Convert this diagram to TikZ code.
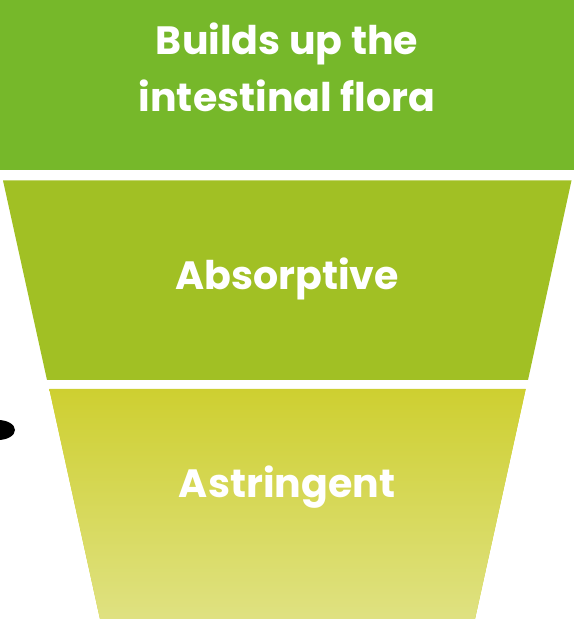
\documentclass[tikz,border=0pt]{standalone}
\usepackage{fontspec}
\setmainfont{Poppins}
\usepackage{tikz}
\usetikzlibrary{positioning, calc}
\definecolor{floragreen}{RGB}{118,184,42}
\definecolor{absorbgreen}{RGB}{161,192,36}
\definecolor{astrintop}{RGB}{202,203,30}
\definecolor{astrinbot}{RGB}{230,233,162}

\begin{document}
\begin{tikzpicture}[x=1pt,y=1pt]

\tikzstyle{layertext}=[text=white, font=\fontsize{39.5}{57}\selectfont\bfseries, align=center, inner sep=0pt]
\tikzstyle{layer}=[draw=none]

\useasboundingbox (0,0) rectangle (574,619);

% funnel layers
\fill[layer, floragreen] (0,619) rectangle (574,448.5);
\fill[layer, absorbgreen] (3,438.5) -- (571.5,438.5) -- (528,239) -- (47,239) -- cycle;
\begin{scope}
\clip (49.3,230) -- (525.7,230) -- (475,0) -- (100,0) -- cycle;
\fill[astrintop] (0,230) rectangle (574,0);
\shade[top color=astrintop, bottom color=astrinbot] (0,283.5) rectangle (574,-94.5);
\end{scope}

% black blob on the left edge
\fill[black] (-2,189) ellipse (17 and 10);

\node [layertext] (flora) at (287,552) {Builds up the\\intestinal flora};
\node [layertext, anchor=base] (absorb) at (287,329) {Absorptive};
\node [layertext, anchor=base] (astrin) at (287,121) {Astringent};

\end{tikzpicture}
\end{document}
